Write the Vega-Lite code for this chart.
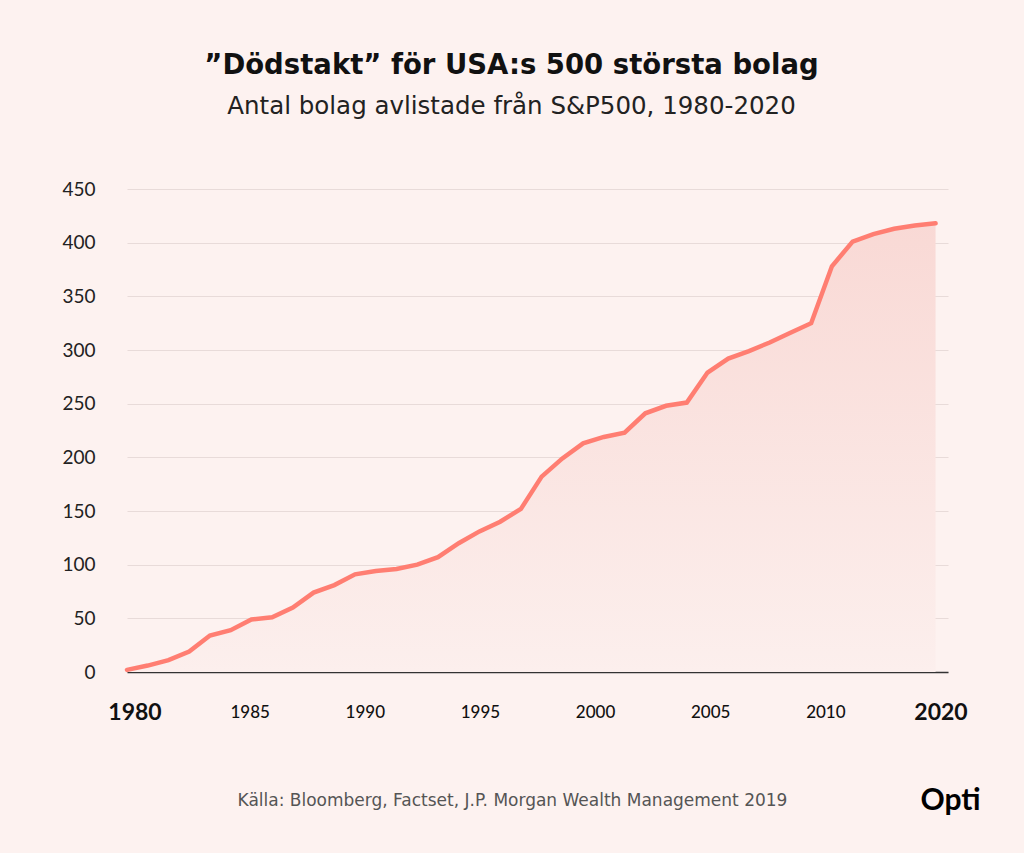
{
  "$schema": "https://vega.github.io/schema/vega-lite/v6.json",
  "width": 821,
  "height": 483,
  "autosize": {"type": "none"},
  "padding": {"left": 127, "top": 189, "right": 76, "bottom": 181},
  "background": "#FDF2F0",
  "config": {"view": {"stroke": null}, "font": "Lato"},
  "title": {
    "text": "”Dödstakt” för USA:s 500 största bolag",
    "subtitle": "Antal bolag avlistade från S&P500, 1980-2020",
    "anchor": "middle",
    "dx": -26,
    "offset": 62,
    "font": "DejaVu Sans",
    "fontSize": 27.5,
    "fontWeight": "bold",
    "color": "#111111",
    "subtitleFont": "DejaVu Sans",
    "subtitleFontSize": 24.5,
    "subtitleColor": "#222222",
    "subtitlePadding": 15
  },
  "data": {
    "values": [
      {"year": 1980, "removed": 2},
      {"year": 1981, "removed": 6},
      {"year": 1982, "removed": 11},
      {"year": 1983, "removed": 19},
      {"year": 1984, "removed": 34},
      {"year": 1985, "removed": 39},
      {"year": 1986, "removed": 49},
      {"year": 1987, "removed": 51},
      {"year": 1988, "removed": 60},
      {"year": 1989, "removed": 74},
      {"year": 1990, "removed": 81},
      {"year": 1991, "removed": 91},
      {"year": 1992, "removed": 94},
      {"year": 1993, "removed": 96},
      {"year": 1994, "removed": 100},
      {"year": 1995, "removed": 107},
      {"year": 1996, "removed": 120},
      {"year": 1997, "removed": 131},
      {"year": 1998, "removed": 140},
      {"year": 1999, "removed": 152},
      {"year": 2000, "removed": 182},
      {"year": 2001, "removed": 199},
      {"year": 2002, "removed": 213},
      {"year": 2003, "removed": 219},
      {"year": 2004, "removed": 223},
      {"year": 2005, "removed": 241},
      {"year": 2006, "removed": 248},
      {"year": 2007, "removed": 251},
      {"year": 2008, "removed": 279},
      {"year": 2009, "removed": 292},
      {"year": 2010, "removed": 299},
      {"year": 2011, "removed": 307},
      {"year": 2012, "removed": 316},
      {"year": 2013, "removed": 325},
      {"year": 2014, "removed": 378},
      {"year": 2015, "removed": 401},
      {"year": 2016, "removed": 408},
      {"year": 2017, "removed": 413},
      {"year": 2018, "removed": 416},
      {"year": 2019, "removed": 418}
    ]
  },
  "layer": [
    {
      "mark": {
        "type": "area",
        "color": {
          "gradient": "linear",
          "x1": 0, "y1": 0, "x2": 0, "y2": 1,
          "stops": [
            {"offset": 0, "color": "#F9D9D5"},
            {"offset": 1, "color": "#FCEFED"}
          ]
        }
      },
      "encoding": {
        "x": {"field": "year", "type": "quantitative", "scale": {"domain": [1980, 2019.6]}, "axis": null},
        "y": {
          "field": "removed", "type": "quantitative",
          "scale": {"domain": [0, 450]},
          "axis": {
            "values": [0, 50, 100, 150, 200, 250, 300, 350, 400, 450],
            "grid": true,
            "gridColor": "#E8DBD9",
            "gridWidth": 1,
            "domain": false,
            "ticks": false,
            "tickSize": 0,
            "labelPadding": 32,
            "labelFontSize": 19,
            "labelColor": "#222222",
            "labelFont": "Lato",
            "title": null
          }
        }
      }
    },
    {
      "mark": {"type": "line", "color": "#FF7E72", "strokeWidth": 4.5, "strokeCap": "round"},
      "encoding": {
        "x": {"field": "year", "type": "quantitative", "scale": {"domain": [1980, 2019.6]}, "axis": null},
        "y": {"field": "removed", "type": "quantitative", "scale": {"domain": [0, 450]}, "axis": null}
      }
    },
    {
      "data": {
        "values": [
          {"label": "1980"}, {"label": "1985"}, {"label": "1990"}, {"label": "1995"},
          {"label": "2000"}, {"label": "2005"}, {"label": "2010"}, {"label": "2020"}
        ]
      },
      "mark": {"type": "point", "opacity": 0},
      "encoding": {
        "x": {
          "field": "label", "type": "ordinal", "sort": null,
          "scale": {"type": "point", "padding": 0.065},
          "axis": {
            "domain": true,
            "domainColor": "#333333",
            "domainWidth": 1.5,
            "ticks": false,
            "tickSize": 0,
            "grid": false,
            "labelAngle": 0,
            "labelPadding": 40,
            "labelBaseline": "middle",
            "labelColor": "#111111",
            "labelFont": "Lato",
            "labelFontSize": {"condition": {"test": "datum.value === '1980' || datum.value === '2020'", "value": 23}, "value": 17},
            "labelFontWeight": {"condition": {"test": "datum.value === '1980' || datum.value === '2020'", "value": "bold"}, "value": 500},
            "title": "Källa: Bloomberg, Factset, J.P. Morgan Wealth Management 2019",
            "titleFont": "DejaVu Sans",
            "titleFontSize": 17,
            "titleFontWeight": "normal",
            "titleColor": "#555555",
            "titleX": 385,
            "titleY": 128,
            "titleAlign": "center",
            "titleBaseline": "middle"
          }
        },
        "y": {
          "field": "label", "type": "nominal",
          "axis": {
            "orient": "right",
            "labels": false,
            "ticks": false,
            "domain": false,
            "grid": false,
            "title": "Opti",
            "titleAngle": 0,
            "titleFont": "Lato",
            "titleFontSize": 30,
            "titleFontWeight": "bold",
            "titleColor": "#000000",
            "titleX": 2,
            "titleY": 611,
            "titleAlign": "center",
            "titleBaseline": "middle"
          }
        }
      }
    }
  ],
  "resolve": {"scale": {"x": "independent", "y": "independent"}, "axis": {"x": "independent", "y": "independent"}}
}
